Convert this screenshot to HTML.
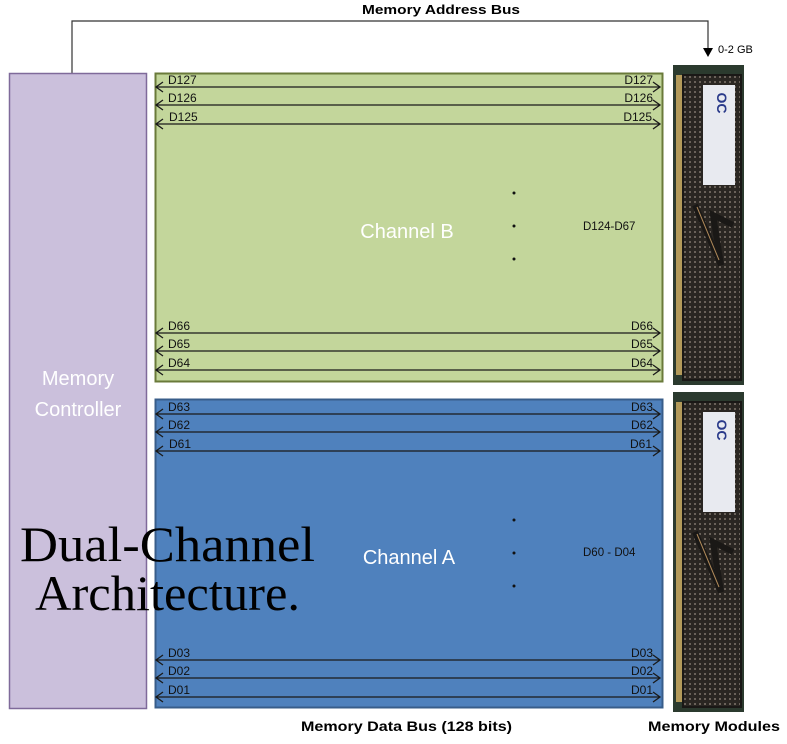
<!DOCTYPE html>
<html><head><meta charset="utf-8"><style>
html,body{margin:0;padding:0;background:#fff;width:787px;height:744px;overflow:hidden}
svg{display:block}
</style></head><body>
<svg width="787" height="744" viewBox="0 0 787 744" xmlns="http://www.w3.org/2000/svg" font-family="Liberation Sans, sans-serif">
<defs>
<pattern id="dots" width="5" height="5" patternUnits="userSpaceOnUse"><rect width="5" height="5" fill="#2a2622"/><rect x="1" y="1" width="2" height="2" fill="#6a625a"/></pattern>
<g id="mod">
<rect x="0" y="0" width="71" height="320" fill="#2b3a2e"/>
<rect x="3" y="10" width="6" height="300" fill="#b39a5a"/>
<rect x="10" y="10" width="58" height="305" fill="url(#dots)"/>
<rect x="10" y="10" width="58" height="305" fill="none" stroke="#1a1816" stroke-width="2"/>
<rect x="30" y="20" width="32" height="100" fill="#e8eaf0"/>
<text x="44" y="38" font-size="14" fill="#2a3a8a" font-weight="bold" text-anchor="middle" transform="rotate(90 44 38)">OC</text>
<path d="M22 140 L48 200 L40 150 L60 160" stroke="#1a1816" stroke-width="6" fill="none"/>
<path d="M24 142 L46 195" stroke="#b08a5a" stroke-width="1" fill="none"/>
</g>
</defs>
<text x="441" y="14" font-size="12.5" font-weight="bold" text-anchor="middle" textLength="158" lengthAdjust="spacingAndGlyphs">Memory Address Bus</text>
<path d="M72 73 V21 H708 V50" stroke="#333" stroke-width="1.2" fill="none"/>
<path d="M703 48 L713 48 L708 57 Z" fill="#000"/>
<text x="718" y="53" font-size="11">0-2 GB</text>
<rect x="9.5" y="73.5" width="137" height="635" fill="#cbc0dc" stroke="#7f6a9a" stroke-width="1.5"/>
<text x="78" y="385" font-size="20" fill="#fff" text-anchor="middle">Memory</text>
<text x="78" y="416" font-size="20" fill="#fff" text-anchor="middle">Controller</text>
<rect x="155.5" y="73.5" width="507" height="308" fill="#c3d69b" stroke="#6a7a3a" stroke-width="2"/>
<rect x="155.5" y="399.5" width="507" height="308" fill="#4f81bd" stroke="#385d8a" stroke-width="2"/>
<g stroke="#1a1a1a" stroke-width="1.3" fill="none">
<path d="M156 87H660M156 105H660M156 124H660M156 333H660M156 351H660M156 370H660M156 414H660M156 432H660M156 451H660M156 660H660M156 678H660M156 697H660"/>
<path d="M163 82L156 87L163 92M163 100L156 105L163 110M163 119L156 124L163 129M163 328L156 333L163 338M163 346L156 351L163 356M163 365L156 370L163 375M163 409L156 414L163 419M163 427L156 432L163 437M163 446L156 451L163 456M163 655L156 660L163 665M163 673L156 678L163 683M163 692L156 697L163 702"/>
<path d="M653 82L660 87L653 92M653 100L660 105L653 110M653 119L660 124L653 129M653 328L660 333L653 338M653 346L660 351L653 356M653 365L660 370L653 375M653 409L660 414L653 419M653 427L660 432L653 437M653 446L660 451L653 456M653 655L660 660L653 665M653 673L660 678L653 683M653 692L660 697L653 702"/>
</g>
<g font-size="12" fill="#111">
<text x="168" y="84">D127</text><text x="168" y="102">D126</text><text x="169" y="121">D125</text>
<text x="168" y="330">D66</text><text x="168" y="348">D65</text><text x="168" y="367">D64</text>
<text x="168" y="411">D63</text><text x="168" y="429">D62</text><text x="169" y="448">D61</text>
<text x="168" y="657">D03</text><text x="168" y="675">D02</text><text x="168" y="694">D01</text>
</g>
<g font-size="12" fill="#111" text-anchor="end">
<text x="653" y="84">D127</text><text x="653" y="102">D126</text><text x="652" y="121">D125</text>
<text x="653" y="330">D66</text><text x="653" y="348">D65</text><text x="653" y="367">D64</text>
<text x="653" y="411">D63</text><text x="653" y="429">D62</text><text x="652" y="448">D61</text>
<text x="653" y="657">D03</text><text x="653" y="675">D02</text><text x="653" y="694">D01</text>
</g>
<text x="407" y="238" font-size="20" fill="#fff" text-anchor="middle">Channel B</text>
<text x="409" y="564" font-size="20" fill="#fff" text-anchor="middle">Channel A</text>
<text x="583" y="230" font-size="11.5" fill="#111">D124-D67</text>
<text x="583" y="556" font-size="11.5" fill="#111">D60 - D04</text>
<g fill="#111"><circle cx="514" cy="193" r="1.5"/><circle cx="514" cy="226" r="1.5"/><circle cx="514" cy="259" r="1.5"/>
<circle cx="514" cy="520" r="1.5"/><circle cx="514" cy="553" r="1.5"/><circle cx="514" cy="586" r="1.5"/></g>
<use href="#mod" x="673" y="65"/>
<use href="#mod" x="673" y="392"/>
<text x="20" y="561" font-family="Liberation Serif, serif" font-size="50" textLength="295" lengthAdjust="spacingAndGlyphs">Dual-Channel</text>
<text x="35" y="610" font-family="Liberation Serif, serif" font-size="50" textLength="265" lengthAdjust="spacingAndGlyphs">Architecture.</text>
<text x="301" y="731" font-size="14" font-weight="bold" textLength="211" lengthAdjust="spacingAndGlyphs">Memory Data Bus (128 bits)</text>
<text x="648" y="731" font-size="14" font-weight="bold" textLength="132" lengthAdjust="spacingAndGlyphs">Memory Modules</text>
</svg>
</body></html>
